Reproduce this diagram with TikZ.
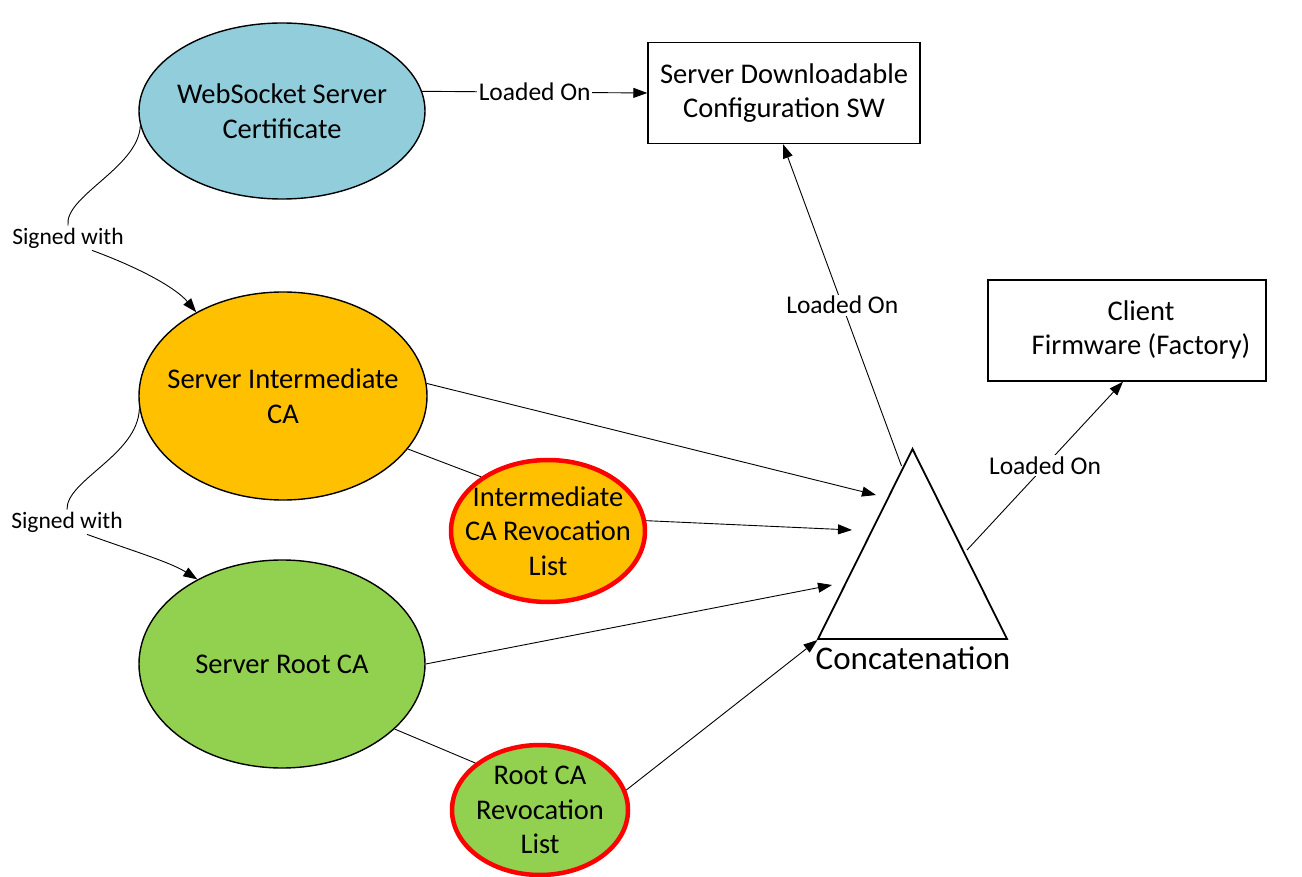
\documentclass[tikz,border=0pt]{standalone}
\usepackage{fontspec}
\setmainfont{Carlito}
\usetikzlibrary{arrows.meta,shapes.geometric}
\newcommand\mynodefont{\fontsize{28.5}{34.5}\selectfont}
\newcommand\mylblfont{\fontsize{25.5}{30}\selectfont}
\newcommand\mysignfont{\fontsize{23.5}{28}\selectfont}
\newcommand\myconcfont{\fontsize{33}{38}\selectfont}
\definecolor{cblue}{HTML}{92CDDC}
\definecolor{corange}{HTML}{FFC000}
\definecolor{cgreen}{HTML}{92D050}
\begin{document}
\begin{tikzpicture}[x=1pt,y=-1pt,
  ell/.style={ellipse, draw=black, line width=1.4pt, inner sep=0pt},
  rev/.style={ellipse, draw=red, line width=4.5pt, inner sep=0pt},
  intext/.style={font=\mynodefont, align=center, inner sep=0pt},
  boxnode/.style={draw=black, line width=1.4pt, inner sep=0pt, align=center, font=\mynodefont},
  conn/.style={line width=0.9pt},
  arr/.style={conn, -{Triangle[length=14pt,width=10pt]}},
  lbl/.style={fill=white, inner sep=1.5pt, font=\mylblfont},
  sign/.style={inner sep=2pt, font=\mysignfont}]
\useasboundingbox (0,0) rectangle (1302,877);

% ellipses
\node[ell, fill=cblue, minimum width=286pt, minimum height=176pt,
  label={[intext]center:{WebSocket Server\\Certificate}}] (ws) at (282,111) {};
\node[ell, fill=corange, minimum width=288pt, minimum height=208pt,
  label={[intext]center:{Server Intermediate\\CA}}] (si) at (283,396) {};
\node[ell, fill=cgreen, minimum width=286pt, minimum height=208pt,
  label={[intext]center:{Server Root CA}}] (sr) at (282,664) {};
\node[rev, fill=corange, minimum width=194pt, minimum height=142pt,
  label={[intext]center:{Intermediate\\CA Revocation\\List}}] (il) at (548,531) {};
\node[rev, fill=cgreen, minimum width=176pt, minimum height=130pt,
  label={[intext]center:{Root CA\\Revocation\\List}}] (rl) at (540,810) {};

% boxes
\node[boxnode, minimum width=272pt, minimum height=101pt] (sd) at (784,93)
  {Server Downloadable\\Configuration SW};
\node[boxnode, minimum width=278pt, minimum height=101pt] (cf) at (1127,330.5) {};
\node[intext] (cft) at (1141,330) {Client\\Firmware (Factory)};

% triangle
\coordinate (tA) at (912.5,449);
\coordinate (tL) at (818,639);
\coordinate (tR) at (1007,639);
\draw[line width=1.8pt, line join=miter] (tA) -- (tL) -- (tR) -- cycle;
\node[inner sep=0pt, font=\myconcfont] (conc) at (913,658) {Concatenation};

% arrow end points near triangle
\coordinate (e1) at (876,495);
\coordinate (e2) at (852,530);
\coordinate (e3) at (832,585);
\coordinate (e4) at (817.5,640);
\coordinate (tapex) at (901.5,466);
\coordinate (tside) at (967,550);

% signed with
\node[sign] (sw1) at (68,238) {Signed with};
\node[sign] (sw2) at (67,522) {Signed with};
\draw[conn] (ws.186) .. controls (138,168) and (64,196) .. (sw1.north);
\draw[arr] ([xshift=24pt]sw1.south) .. controls (140,268) and (176,288) .. (si.136);
\draw[conn] (si.185) .. controls (138,455) and (66,480) .. (sw2.north);
\draw[arr] ([xshift=20pt]sw2.south) .. controls (130,550) and (170,562) .. (sr.135);

% loaded on
\draw[arr] (ws.8) -- node[lbl]{Loaded On} (sd.west);
\draw[arr] (tapex) -- node[lbl]{Loaded On} ([xshift=-1pt]sd.south);
\draw[arr] (tside) -- node[lbl]{Loaded On} ([xshift=-4pt]cf.south);

% into concatenation
\draw[arr] (si.5.5) -- (e1);
\draw[arr] (il.6) -- (e2);
\draw[arr] (sr.east) -- (e3);
\draw[arr] (rl.13) -- (e4);

% plain links
\draw[conn] (si.-23) -- (il.141);
\draw[conn] (sr.-30) -- (rl.144);
\end{tikzpicture}
\end{document}
